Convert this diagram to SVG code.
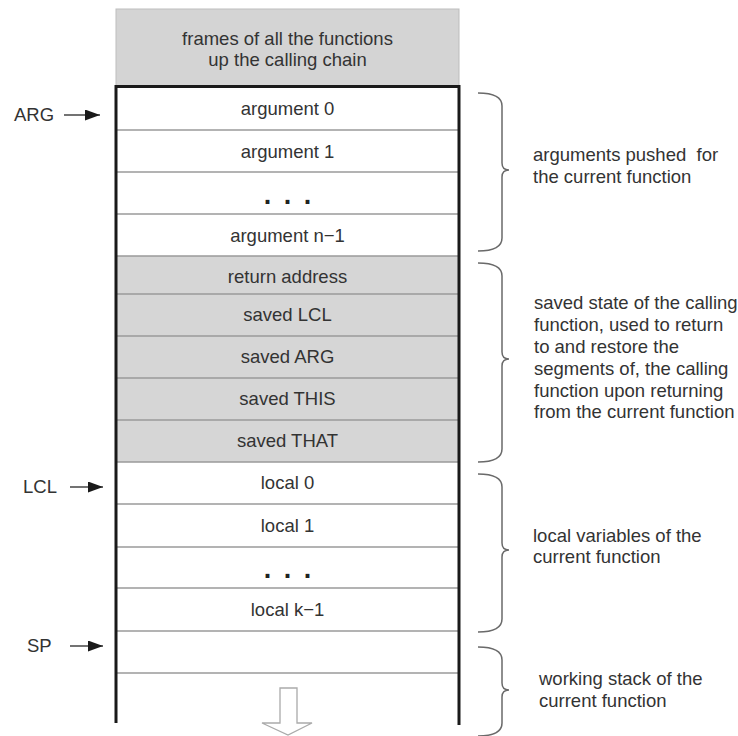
<svg xmlns="http://www.w3.org/2000/svg" width="738" height="736" viewBox="0 0 738 736">
<defs>
<style>
.t{font-family:"Liberation Sans",Arial,sans-serif;font-size:18.5px;fill:#333}
.c{text-anchor:middle}
.dots{font-family:"Liberation Sans",Arial,sans-serif;font-size:27px;font-weight:bold;fill:#222;text-anchor:middle;word-spacing:5px}
.sep{stroke:#9a9a9a;stroke-width:1.5}
.brace{fill:none;stroke:#6a6a6a;stroke-width:1.5}
.ptr{stroke:#444;stroke-width:1.3}
</style>
<marker id="ah" viewBox="0 0 15 11" refX="15" refY="5.5" markerWidth="15" markerHeight="11" markerUnits="userSpaceOnUse" orient="auto">
<path d="M0,0 L15,5.5 L0,11 Z" fill="#1a1a1a"/>
</marker>
</defs>
<rect width="738" height="736" fill="#fff"/>

<g id="frames">
<rect x="116" y="9" width="343" height="77" fill="#d4d4d4" stroke="#bdbdbd" stroke-width="1"/>
<text class="t c" x="287.5" y="45">frames of all the functions</text>
<text class="t c" x="287.5" y="66">up the calling chain</text>
</g>

<g id="saved-bg">
<rect x="116" y="256" width="343" height="206" fill="#d6d6d6"/>
</g>

<g id="separators">
<line class="sep" x1="116" y1="130" x2="459" y2="130"/>
<line class="sep" x1="116" y1="172" x2="459" y2="172"/>
<line class="sep" x1="116" y1="214" x2="459" y2="214"/>
<line class="sep" x1="116" y1="256" x2="459" y2="256"/>
<line class="sep" x1="116" y1="294" x2="459" y2="294"/>
<line class="sep" x1="116" y1="336" x2="459" y2="336"/>
<line class="sep" x1="116" y1="378" x2="459" y2="378"/>
<line class="sep" x1="116" y1="420" x2="459" y2="420"/>
<line class="sep" x1="116" y1="462" x2="459" y2="462"/>
<line class="sep" x1="116" y1="504" x2="459" y2="504"/>
<line class="sep" x1="116" y1="547" x2="459" y2="547"/>
<line class="sep" x1="116" y1="588" x2="459" y2="588"/>
<line class="sep" x1="116" y1="631" x2="459" y2="631"/>
<line class="sep" x1="116" y1="673" x2="459" y2="673"/>
</g>

<g id="frame-outline">
<path d="M116,723 L116,86.5 L459,86.5 L459,725" fill="none" stroke="#1a1a1a" stroke-width="3"/>
</g>

<g id="arg0"><text class="t c" x="287.5" y="115">argument 0</text></g>
<g id="arg1"><text class="t c" x="287.5" y="158">argument 1</text></g>
<g id="argdots"><text class="dots" x="287.5" y="204">. . .</text></g>
<g id="argn"><text class="t c" x="287.5" y="242">argument n−1</text></g>
<g id="retaddr"><text class="t c" x="287.5" y="283">return address</text></g>
<g id="savedLCL"><text class="t c" x="287.5" y="321">saved LCL</text></g>
<g id="savedARG"><text class="t c" x="287.5" y="363">saved ARG</text></g>
<g id="savedTHIS"><text class="t c" x="287.5" y="405">saved THIS</text></g>
<g id="savedTHAT"><text class="t c" x="287.5" y="447">saved THAT</text></g>
<g id="local0"><text class="t c" x="287.5" y="489">local 0</text></g>
<g id="local1"><text class="t c" x="287.5" y="532">local 1</text></g>
<g id="localdots"><text class="dots" x="287.5" y="578">. . .</text></g>
<g id="localk"><text class="t c" x="287.5" y="616">local k−1</text></g>

<g id="grow-arrow">
<path d="M280,688 L297,688 L297,723 L312,723 L288,735 L262,723 L280,723 Z" fill="#fff" stroke="#aaa" stroke-width="1.3"/>
</g>

<g id="ARG-label"><text class="t" x="14" y="121">ARG</text></g>
<g id="LCL-label"><text class="t" x="23" y="493">LCL</text></g>
<g id="SP-label"><text class="t" x="27" y="652">SP</text></g>

<g id="connectors">
<line class="ptr" x1="64" y1="115" x2="100" y2="115" marker-end="url(#ah)"/>
<line class="ptr" x1="70" y1="487" x2="103" y2="487" marker-end="url(#ah)"/>
<line class="ptr" x1="70" y1="646" x2="103" y2="646" marker-end="url(#ah)"/>
</g>

<g id="brace-args">
<path class="brace" d="M478,93 Q502,93 502,106 L502,163 Q502,170 509,170 Q502,170 502,177 L502,238 Q502,251 478,251"/>
<text class="t" x="533" y="161" xml:space="preserve">arguments pushed  for</text>
<text class="t" x="533" y="183">the current function</text>
</g>

<g id="brace-saved">
<path class="brace" d="M478,263 Q502,263 502,276 L502,352 Q502,359 509,359 Q502,359 502,366 L502,449 Q502,462 478,462"/>
<text class="t" x="534" y="309">saved state of the calling</text>
<text class="t" x="534" y="331">function, used to return</text>
<text class="t" x="534" y="353">to and restore the</text>
<text class="t" x="534" y="375">segments of, the calling</text>
<text class="t" x="534" y="397">function upon returning</text>
<text class="t" x="534" y="418">from the current function</text>
</g>

<g id="brace-locals">
<path class="brace" d="M478,474 Q502,474 502,487 L502,543 Q502,550 509,550 Q502,550 502,557 L502,619 Q502,632 478,632"/>
<text class="t" x="533" y="542">local variables of the</text>
<text class="t" x="533" y="563">current function</text>
</g>

<g id="brace-working">
<path class="brace" d="M478,647 Q502,647 502,660 L502,683 Q502,690 509,690 Q502,690 502,697 L502,723 Q502,736 478,736"/>
<text class="t" x="539" y="685">working stack of the</text>
<text class="t" x="539" y="707">current function</text>
</g>
</svg>
